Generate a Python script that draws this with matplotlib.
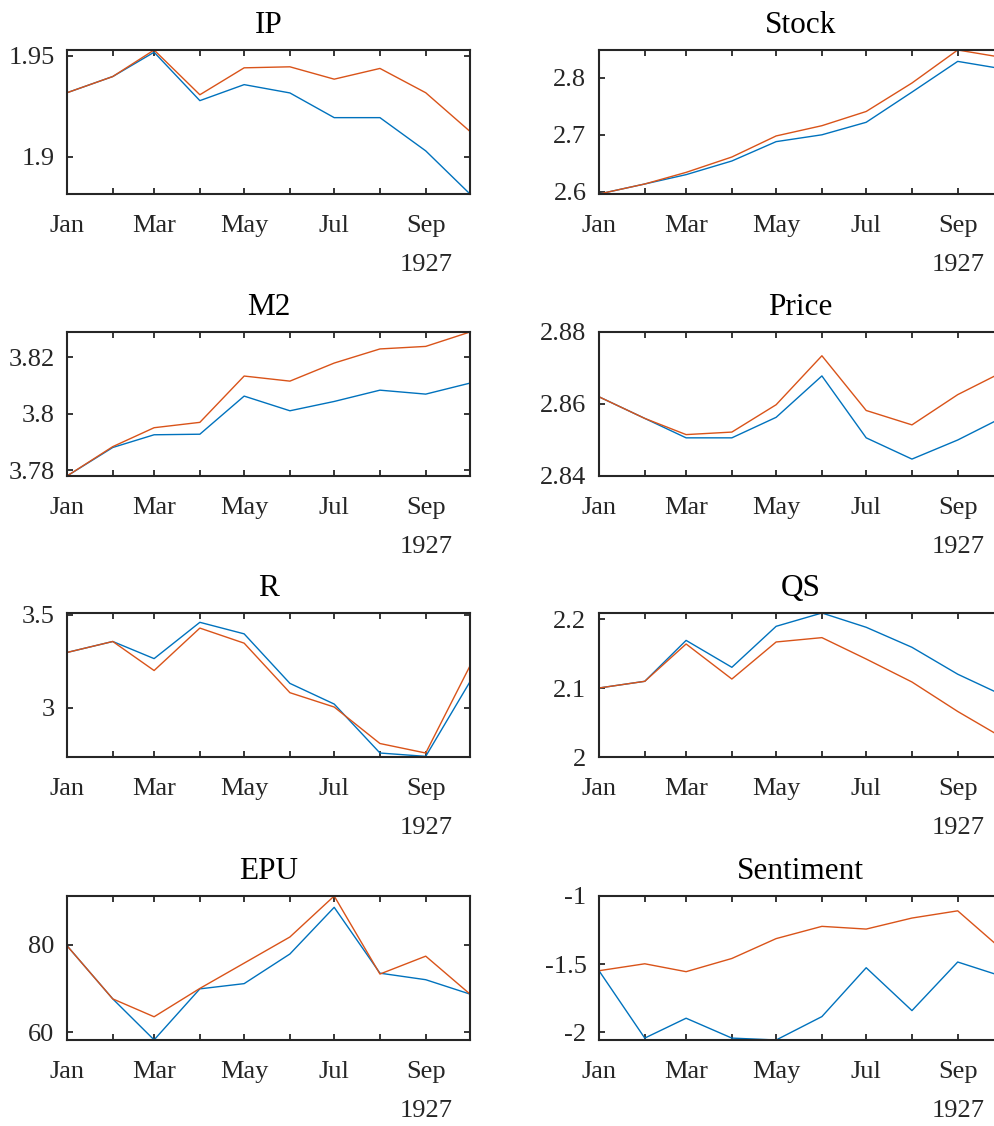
import numpy as np
import pandas as pd
import matplotlib
matplotlib.use("Agg")
import matplotlib.pyplot as plt
import matplotlib.dates as mdates

plt.rcParams['font.family'] = ['Liberation Serif', 'DejaVu Serif']
plt.rcParams['axes.unicode_minus'] = False

#####################################################################
months = pd.date_range("1927-01-01", periods=10, freq="MS")

titles = ["IP", "Stock", "M2", "Price", "R", "QS", "EPU", "Sentiment"]

ip_a = [1.9317, 1.9397, 1.9517, 1.9278, 1.9357, 1.9316, 1.9194, 1.9194, 1.9030, 1.8817]
ip_b = [1.9317, 1.9397, 1.9528, 1.9307, 1.9440, 1.9445, 1.9384, 1.9437, 1.9317, 1.9126]

stock_a = [2.596, 2.6136, 2.630, 2.654, 2.688, 2.700, 2.722, 2.775, 2.829, 2.816]
stock_b = [2.596, 2.6136, 2.634, 2.661, 2.698, 2.716, 2.741, 2.791, 2.849, 2.836]

m2_a = [3.7779, 3.7880, 3.7925, 3.7927, 3.8062, 3.8010, 3.8043, 3.8083, 3.8069, 3.8108]
m2_b = [3.7779, 3.7883, 3.7950, 3.7969, 3.8133, 3.8115, 3.8179, 3.8229, 3.8238, 3.8289]

price_a = [2.8620, 2.8560, 2.8506, 2.8506, 2.8563, 2.8678, 2.8506, 2.8447, 2.8500, 2.8562]
price_b = [2.8620, 2.8560, 2.8515, 2.8522, 2.8598, 2.8734, 2.8582, 2.8542, 2.8626, 2.8688]

r_a = [3.297, 3.356, 3.264, 3.459, 3.397, 3.131, 3.020, 2.757, 2.739, 3.140]
r_b = [3.297, 3.356, 3.200, 3.428, 3.347, 3.081, 3.004, 2.808, 2.757, 3.225]

qs_a = [2.100, 2.1097, 2.169, 2.130, 2.1894, 2.2087, 2.188, 2.159, 2.120, 2.090]
qs_b = [2.100, 2.1097, 2.1638, 2.113, 2.1667, 2.173, 2.142, 2.1087, 2.066, 2.0285]

epu_a = [79.8, 67.6, 58.2, 69.9, 71.1, 77.9, 88.6, 73.5, 72.0, 68.7]
epu_b = [79.8, 67.6, 63.5, 70.0, 75.8, 81.8, 91.2, 73.3, 77.4, 68.7]

sent_a = [-1.549, -2.044, -1.898, -2.044, -2.058, -1.886, -1.527, -1.842, -1.485, -1.590]
sent_b = [-1.549, -1.498, -1.556, -1.459, -1.313, -1.223, -1.243, -1.162, -1.109, -1.393]

series_a = [ip_a, stock_a, m2_a, price_a, r_a, qs_a, epu_a, sent_a]
series_b = [ip_b, stock_b, m2_b, price_b, r_b, qs_b, epu_b, sent_b]

ylims = [(1.8817, 1.9528), (2.596, 2.849), (3.7779, 3.8289), (2.84, 2.88),
         (2.7356, 3.509), (2.0, 2.2087), (58.17, 91.2), (-2.058, -1.0)]
yticks = [[1.9, 1.95], [2.6, 2.7, 2.8], [3.78, 3.8, 3.82], [2.84, 2.86, 2.88],
          [3, 3.5], [2, 2.1, 2.2], [60, 80], [-2, -1.5, -1]]
yticklabels = [["1.9", "1.95"], ["2.6", "2.7", "2.8"], ["3.78", "3.8", "3.82"],
               ["2.84", "2.86", "2.88"], ["3", "3.5"], ["2", "2.1", "2.2"],
               ["60", "80"], ["-2", "-1.5", "-1"]]

#####################################################################
W, H = 995, 1126
fig = plt.figure(figsize=(W / 100, H / 100), dpi=100)

col_left = [67, 599]
ax_w = 403
row_top = [50, 332, 613, 896]
ax_h = 144

blue = '#0072BD'
orange = '#D95319'
axcol = '#262626'

for i in range(8):
    r, c = divmod(i, 2)
    ax = fig.add_axes([col_left[c] / W, 1 - (row_top[r] + ax_h) / H, ax_w / W, ax_h / H])
    ax.plot(months, series_a[i], color=blue, linewidth=1.0, clip_on=False)
    ax.plot(months, series_b[i], color=orange, linewidth=1.0, clip_on=False)
    ax.set_xlim(months[0], months[-1])
    ax.set_ylim(*ylims[i])
    ax.set_yticks(yticks[i])
    ax.set_yticklabels(yticklabels[i])
    ax.xaxis.set_major_locator(mdates.MonthLocator(bymonth=[1, 3, 5, 7, 9]))
    ax.xaxis.set_major_formatter(mdates.DateFormatter('%b'))
    ax.xaxis.set_minor_locator(mdates.MonthLocator())
    ax.tick_params(which='both', direction='in', top=True, right=True, length=4,
                   width=1.3, colors=axcol, labelsize=19)
    ax.tick_params(axis='y', pad=9)
    ax.tick_params(axis='x', which='both', pad=15)
    for s in ax.spines.values():
        s.set_linewidth(1.5)
        s.set_color(axcol)
    ax.set_title(titles[i], fontsize=22.5, pad=12, color='black')
    ax.annotate("1927", xy=(months[8], 0), xycoords=('data', 'axes fraction'),
                xytext=(0, -43), textcoords='offset points', ha='center', va='top',
                fontsize=19, color=axcol, annotation_clip=False)

fig.savefig("out.png", dpi=100)
